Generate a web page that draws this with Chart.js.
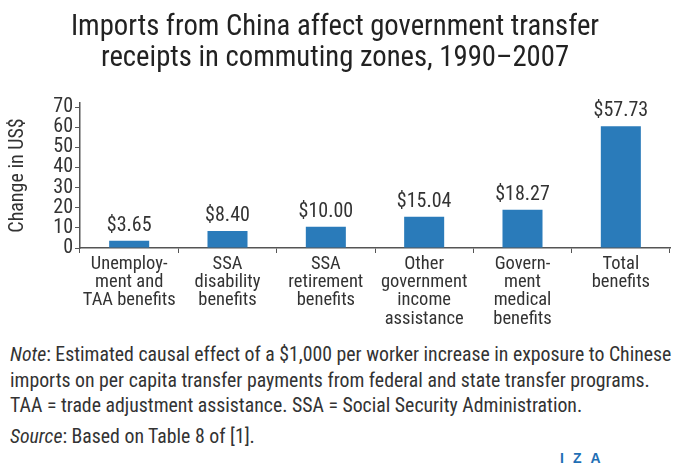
<!DOCTYPE html>
<html>
<head>
<meta charset="utf-8">
<script src="https://cdn.jsdelivr.net/npm/chart.js@4"></script>
<style>
  html, body { margin: 0; padding: 0; background: #fff; }
  body { width: 673px; height: 468px; overflow: hidden; position: relative;
         font-family: "Roboto Condensed", sans-serif; color: #333; }
  #wrap { position: absolute; left: 0; top: 0; width: 673px; height: 340px; }
  .note { position: absolute; left: 10px; font-size: 19.8px; line-height: 25.5px; white-space: nowrap; color: #333; }
  .iza { position: absolute; left: 560px; top: 450px; font: bold 14px "Liberation Sans", sans-serif;
         letter-spacing: 9px; color: #1f6fb5; }
</style>
</head>
<body>
<div id="wrap"><canvas id="myChart"></canvas></div>
<div class="note" style="top:342px">
  <i>Note</i>: Estimated causal effect of a $1,000 per worker increase in exposure to Chinese<br>
  imports on per capita transfer payments from federal and state transfer programs.<br>
  TAA = trade adjustment assistance. SSA = Social Security Administration.
</div>
<div class="note" style="top:424px"><i>Source</i>: Based on Table 8 of [1].</div>
<div class="iza">IZA</div>
<script>
  const categories = [
    ["Unemploy-", "ment and", "TAA benefits"],
    ["SSA", "disability", "benefits"],
    ["SSA", "retirement", "benefits"],
    ["Other", "government", "income", "assistance"],
    ["Govern-", "ment", "medical", "benefits"],
    ["Total", "benefits"]
  ];
  // bar heights as drawn in the picture
  const barValues = [3.6, 8.5, 10.5, 15.5, 19, 60.5];
  const valueLabels = ["$3.65", "$8.40", "$10.00", "$15.04", "$18.27", "$57.73"];
  const titleLines = ["Imports from China affect government transfer", "receipts in commuting zones, 1990\u20132007"];
  const yMax = 72;
  const yStep = 10;

  const FONT = '"Roboto Condensed", sans-serif';

  // draws the dollar value above each bar
  const valueLabelPlugin = {
    id: 'valueLabels',
    afterDatasetsDraw(chart) {
      const ctx = chart.ctx;
      const meta = chart.getDatasetMeta(0);
      ctx.save();
      ctx.font = '20px ' + FONT;
      ctx.fillStyle = '#333';
      ctx.textAlign = 'center';
      ctx.textBaseline = 'alphabetic';
      meta.data.forEach((bar, i) => {
        ctx.fillText(valueLabels[i], bar.x, bar.y - 10);
      });
      ctx.restore();
    }
  };

  const ctx = document.querySelector('#myChart').getContext('2d');
  const chart = new Chart(ctx, {
    type: 'bar',
    data: {
      labels: categories,
      datasets: [{
        data: barValues,
        backgroundColor: '#2a7bba',
        barPercentage: 0.407,
        categoryPercentage: 1.0
      }]
    },
    options: {
      responsive: true,
      maintainAspectRatio: false,
      animation: false,
      layout: { padding: { left: 0, right: 3, top: 0, bottom: 0 } },
      plugins: {
        legend: { display: false },
        tooltip: { enabled: false },
        title: {
          display: true,
          text: titleLines,
          color: '#222',
          font: { family: FONT, size: 28.7, weight: 'normal', lineHeight: 1.08 },
          padding: { top: 12, bottom: 29 }
        }
      },
      scales: {
        x: {
          afterFit(scale) { scale.height = 92; },
          border: { color: '#555', width: 1.5 },
          grid: { display: true, drawOnChartArea: false, tickLength: 5, color: '#555', offset: true },
          ticks: {
            color: '#333',
            padding: 2,
            maxRotation: 0,
            autoSkip: false,
            font: { family: FONT, size: 18.5, lineHeight: 0.99 }
          }
        },
        y: {
          min: 0,
          max: yMax,
          afterFit(scale) { scale.width = 80; },
          afterBuildTicks(scale) {
            scale.ticks = [];
            for (let v = 0; v <= 70; v += yStep) scale.ticks.push({ value: v });
          },
          border: { color: '#555', width: 1.5 },
          grid: { display: true, drawOnChartArea: false, tickLength: 5, color: '#555' },
          ticks: {
            color: '#333',
            padding: 2,
            autoSkip: false,
            font: { family: FONT, size: 20, lineHeight: 1 }
          },
          title: {
            display: true,
            text: 'Change in US$',
            color: '#333',
            font: { family: FONT, size: 20, lineHeight: 1.2 },
            padding: { top: 6, bottom: 0 }
          }
        }
      }
    },
    plugins: [valueLabelPlugin]
  });
</script>
</body>
</html>
